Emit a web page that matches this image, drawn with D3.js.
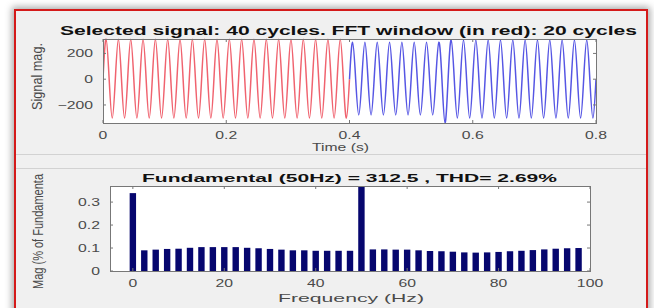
<!DOCTYPE html>
<html lang="en">
<head>
<meta charset="UTF-8">
<title>Selected signal and FFT</title>
<style>
    body {
        margin: 0;
        background: #fff;
        font-family: 'Liberation Sans', Arial, sans-serif;
        overflow: hidden;
    }
    #frame {
        position: absolute;
        left: 14px;
        top: 9px;
        width: 630px;
        height: 320px;
        background: #f0f0f0;
        border: 2px solid #d41a1a;
        box-shadow: 0 0 7px 2px rgba(0, 0, 0, 0.35);
    }
    #chart svg {
        position: absolute;
        left: 0;
        top: 0;
    }
</style>
<script src="https://d3js.org/d3.v7.min.js"></script>
</head>
<body>
<div id="frame"></div>
<div id="chart"></div>
<script>
// signal: 40 cycles of 50 Hz, peak and trough of every cycle
const signalFreq = 50;
const windowCycles = 20;
const cyclePeaks = [
    312, 310, 310, 310, 310, 310, 310, 310, 310, 310,
    310, 310, 310, 310, 310, 310, 310, 310, 310, 310,
    287, 287, 287, 287, 287, 287, 287, 287, 305, 305,
    305, 305, 305, 305, 305, 305, 305, 305, 305, 305
];
const cycleTroughs = [
    -302, -302, -302, -302, -302, -302, -302, -302, -302, -302,
    -302, -302, -302, -302, -302, -302, -302, -302, -302, -302,
    -277, -277, -277, -277, -277, -277, -277, -340, -302, -302,
    -302, -302, -302, -302, -302, -302, -302, -302, -302, -302
];
const timeTicks = [0, 0.2, 0.4, 0.6, 0.8];
const signalTicks = [-200, 0, 200];

// spectrum of the FFT window
const freqBins = [
    0, 2.5, 5, 7.5, 10, 12.5, 15, 17.5, 20, 22.5,
    25, 27.5, 30, 32.5, 35, 37.5, 40, 42.5, 45, 47.5,
    50, 52.5, 55, 57.5, 60, 62.5, 65, 67.5, 70, 72.5,
    75, 77.5, 80, 82.5, 85, 87.5, 90, 92.5, 95, 97.5
];
const magValues = [
    0.339, 0.090, 0.093, 0.096, 0.097, 0.101, 0.104, 0.104, 0.104, 0.104,
    0.101, 0.099, 0.096, 0.093, 0.090, 0.090, 0.088, 0.088, 0.088, 0.088,
    100, 0.094, 0.094, 0.093, 0.093, 0.090, 0.087, 0.086, 0.084, 0.081,
    0.080, 0.081, 0.083, 0.086, 0.088, 0.091, 0.094, 0.097, 0.099, 0.100
];
const freqTicks = [0, 20, 40, 60, 80, 100];
const magTicks = [0, 0.1, 0.2, 0.3];

const width = 654, height = 308;
const sx = 1.5;           // the picture is stretched sideways
const tickColor = "#4a4a4a";
const boxColor = "#777";

const svg = d3.select("#chart").append("svg")
    .attr("width", width)
    .attr("height", height);

// helper: stretched text
function label(g, x, y, str, size, anchor, bold) {
    return g.append("text")
        .attr("transform", `translate(${x},${y}) scale(${sx},1)`)
        .attr("text-anchor", anchor)
        .attr("font-size", size)
        .attr("font-weight", bold ? "bold" : "normal")
        .attr("fill", bold ? "#111" : tickColor)
        .text(str);
}

// separator between panels
[154, 168].forEach(y => {
    svg.append("line")
        .attr("x1", 16).attr("x2", 646)
        .attr("y1", y + 0.5).attr("y2", y + 0.5)
        .attr("stroke", "#d2d2d2");
});

function drawBox(g, x, y) {
    const [x0, x1] = x.range();
    const [y0, y1] = y.range();
    g.append("rect")
        .attr("x", x0).attr("y", y1)
        .attr("width", x1 - x0).attr("height", y0 - y1)
        .attr("fill", "#fff");
}

function drawFrame(g, x, y, xt, yt, xfmt, yfmt) {
    const [x0, x1] = x.range();
    const [y0, y1] = y.range();
    const tk = 3;
    xt.forEach(v => {
        g.append("line").attr("x1", x(v)).attr("x2", x(v)).attr("y1", y0).attr("y2", y0 - tk).attr("stroke", boxColor);
        g.append("line").attr("x1", x(v)).attr("x2", x(v)).attr("y1", y1).attr("y2", y1 + tk).attr("stroke", boxColor);
        label(g, x(v), y0 + 16, xfmt(v), 10.5, "middle");
    });
    yt.forEach(v => {
        g.append("line").attr("x1", x0).attr("x2", x0 + tk).attr("y1", y(v)).attr("y2", y(v)).attr("stroke", boxColor);
        g.append("line").attr("x1", x1).attr("x2", x1 - tk).attr("y1", y(v)).attr("y2", y(v)).attr("stroke", boxColor);
        label(g, x0 - 10, y(v) + 4, yfmt(v), 10.5, "end");
    });
    g.append("rect")
        .attr("x", x0 + 0.5).attr("y", y1 + 0.5)
        .attr("width", x1 - x0).attr("height", y0 - y1)
        .attr("fill", "none")
        .attr("stroke", boxColor);
}

// ---------- top panel: signal ----------
const xT = d3.scaleLinear().domain([0, 0.8]).range([103, 596]);
const yT = d3.scaleLinear().domain([-340, 312]).range([123, 39]);
const topG = svg.append("g");
drawBox(topG, xT, yT);

svg.append("clipPath").attr("id", "clipTop").append("rect")
    .attr("x", 103).attr("y", 38).attr("width", 494).attr("height", 86);

function cyclePoints(from, to) {
    const pts = [];
    const T = 1 / signalFreq;
    for (let i = from; i < to; i++) {
        const t0 = i * T;
        pts.push([t0, 0], [t0 + T / 4, cyclePeaks[i]], [t0 + T / 2, 0], [t0 + 3 * T / 4, cycleTroughs[i]]);
    }
    pts.push([to * T, 0]);
    return pts;
}

const sigLine = d3.line()
    .x(d => xT(d[0]))
    .y(d => yT(d[1]))
    .curve(d3.curveNatural);

topG.append("path")
    .attr("d", sigLine(cyclePoints(0, windowCycles)))
    .attr("clip-path", "url(#clipTop)")
    .attr("fill", "none")
    .attr("stroke", "#f0636f")
    .attr("stroke-width", 1.5);

topG.append("path")
    .attr("d", sigLine(cyclePoints(windowCycles, cyclePeaks.length)))
    .attr("clip-path", "url(#clipTop)")
    .attr("fill", "none")
    .attr("stroke", "#5656e4")
    .attr("stroke-width", 1.5);

drawFrame(topG, xT, yT, timeTicks, signalTicks, d3.format(""), d3.format(""));

topG.append("text")
    .attr("x", 60).attr("y", 35)
    .attr("font-size", 12.5).attr("font-weight", "bold").attr("fill", "#111")
    .attr("textLength", 577).attr("lengthAdjust", "spacingAndGlyphs")
    .text("Selected signal: 40 cycles. FFT window (in red): 20 cycles");

topG.append("text")
    .attr("x", 312).attr("y", 151)
    .attr("font-size", 11).attr("fill", tickColor)
    .attr("textLength", 57).attr("lengthAdjust", "spacingAndGlyphs")
    .text("Time (s)");

topG.append("text")
    .attr("transform", "translate(42,110) rotate(-90) scale(1,1.4)")
    .attr("font-size", 11).attr("fill", tickColor)
    .attr("textLength", 67).attr("lengthAdjust", "spacingAndGlyphs")
    .text("Signal mag.");

// ---------- bottom panel: spectrum ----------
const xB = d3.scaleLinear().domain([-5, 100]).range([110, 590]);
const yB = d3.scaleLinear().domain([0, 0.37]).range([271, 186]);
const botG = svg.append("g");
drawBox(botG, xB, yB);

svg.append("clipPath").attr("id", "clipBot").append("rect")
    .attr("x", 110).attr("y", 186).attr("width", 480).attr("height", 85);

const barW = xB(1.4) - xB(0);
botG.append("g")
    .attr("clip-path", "url(#clipBot)")
    .selectAll("rect")
    .data(freqBins)
    .join("rect")
    .attr("x", (d) => xB(d) - barW / 2)
    .attr("y", (d, i) => yB(magValues[i]))
    .attr("width", barW)
    .attr("height", (d, i) => yB(0) - yB(magValues[i]))
    .attr("fill", "#06066e");

drawFrame(botG, xB, yB, freqTicks, magTicks, d3.format(""), v => v === 0 ? "0" : d3.format(".1f")(v));

botG.append("text")
    .attr("x", 142).attr("y", 181.5)
    .attr("font-size", 11).attr("font-weight", "bold").attr("fill", "#111")
    .attr("textLength", 415).attr("lengthAdjust", "spacingAndGlyphs")
    .text("Fundamental (50Hz) = 312.5 , THD= 2.69%");

botG.append("text")
    .attr("x", 278).attr("y", 302)
    .attr("font-size", 11).attr("fill", tickColor)
    .attr("textLength", 146).attr("lengthAdjust", "spacingAndGlyphs")
    .text("Frequency (Hz)");

botG.append("text")
    .attr("transform", "translate(43,289) rotate(-90) scale(1,1.4)")
    .attr("font-size", 11).attr("fill", tickColor)
    .attr("textLength", 115).attr("lengthAdjust", "spacingAndGlyphs")
    .text("Mag (% of Fundamenta");
</script>
</body>
</html>
